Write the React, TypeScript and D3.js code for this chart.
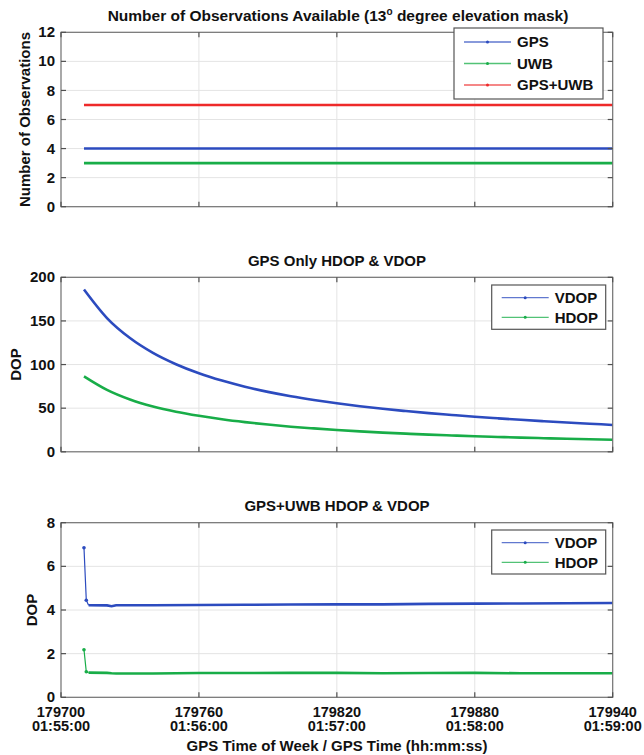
import React from 'react';
import * as d3 from 'd3';

// ---------- data ----------
const xTicks = [179700, 179760, 179820, 179880, 179940];
const timeLabels = ['01:55:00', '01:56:00', '01:57:00', '01:58:00', '01:59:00'];

const obsTimes = [179710, 179940];
const gpsObs = [4, 4];
const uwbObs = [3, 3];
const combObs = [7, 7];
const obsTicks = [0, 2, 4, 6, 8, 10, 12];

const dopTimes = [179710, 179720, 179730, 179740, 179750, 179760, 179770, 179780, 179790, 179800, 179810, 179820,
  179830, 179840, 179850, 179860, 179870, 179880, 179890, 179900, 179910, 179920, 179930, 179940];
const gpsVdop = [186, 153.3, 130.4, 113.4, 100.4, 90, 81.6, 74.6, 68.7, 63.7, 59.4, 55.6,
  52.3, 49.3, 46.7, 44.3, 42.2, 40.2, 38.4, 36.7, 35.1, 33.6, 32.2, 30.8];
const gpsHdop = [86.5, 71, 60, 52, 46, 41.3, 37.3, 34, 31.2, 28.8, 26.8, 25,
  23.4, 22, 20.8, 19.7, 18.7, 17.8, 17, 16.3, 15.6, 15, 14.4, 13.8];
const gpsDopTicks = [0, 50, 100, 150, 200];

const combTimes = [179710, 179711, 179712, 179720, 179722, 179724, 179740, 179760, 179780, 179800, 179820,
  179840, 179860, 179880, 179900, 179920, 179940];
const combVdop = [6.85, 4.45, 4.22, 4.21, 4.17, 4.22, 4.22, 4.23, 4.24, 4.25, 4.26, 4.26, 4.28, 4.29, 4.3, 4.31, 4.32];
const combHdop = [2.18, 1.17, 1.13, 1.12, 1.1, 1.09, 1.09, 1.11, 1.11, 1.12, 1.12, 1.1, 1.11, 1.12, 1.1, 1.1, 1.1];
const combDopTicks = [0, 2, 4, 6, 8];

// ---------- style ----------
const BLUE = '#2c4bbf';
const GREEN = '#18ad48';
const RED = '#ee2a2a';
const FONT = '"Liberation Sans", Arial, sans-serif';
const X0 = 61;
const X1 = 612.7;

const x = d3.scaleLinear().domain([179700, 179940]).range([X0, X1]);

type Series = { times: number[]; values: number[]; color: string; spike?: boolean };
type Legend = { x0: number; x1: number; y0: number; y1: number; rows: { label: string; color: string; y: number }[] };

function Panel(props: {
  top: number; bottom: number; yMax: number; ticks: number[]; series: Series[]; legend: Legend;
  ylabel: string; ylabelX: number; showXLabels?: boolean;
}) {
  const { top, bottom, yMax, ticks, series, legend, ylabel, ylabelX, showXLabels } = props;
  const y = d3.scaleLinear().domain([0, yMax]).range([bottom, top]);
  const tl = 5;
  return (
    <g>
      {/* grid */}
      {xTicks.slice(1, -1).map((t) => (
        <line key={'gx' + t} x1={x(t)} x2={x(t)} y1={top} y2={bottom} stroke="#e4e4e4" strokeWidth={1} />
      ))}
      {ticks.slice(1, -1).map((t) => (
        <line key={'gy' + t} x1={X0} x2={X1} y1={y(t)} y2={y(t)} stroke="#e4e4e4" strokeWidth={1} />
      ))}
      {/* series */}
      {series.map((s, i) => {
        const pts = s.times.map((t, j) => [t, s.values[j]] as [number, number]);
        if (s.spike) {
          const lin = d3.line<[number, number]>().x((d) => x(d[0])).y((d) => y(d[1]));
          return (
            <g key={'s' + i}>
              <path d={lin(pts.slice(0, 3)) || ''} fill="none" stroke={s.color} strokeWidth={1.2} />
              <path d={lin(pts.slice(2)) || ''} fill="none" stroke={s.color} strokeWidth={2.6} />
              {pts.slice(0, 2).map((p, j) => (
                <circle key={j} cx={x(p[0])} cy={y(p[1])} r={1.8} fill={s.color} />
              ))}
            </g>
          );
        }
        const line = d3.line<[number, number]>().x((d) => x(d[0])).y((d) => y(d[1])).curve(d3.curveMonotoneX);
        return <path key={'s' + i} d={line(pts) || ''} fill="none" stroke={s.color} strokeWidth={2.6} />;
      })}
      {/* box */}
      <rect x={X0} y={top} width={X1 - X0} height={bottom - top} fill="none" stroke="#707070" strokeWidth={1.2} />
      {/* ticks */}
      {xTicks.map((t) => (
        <g key={'xt' + t}>
          <line x1={x(t)} x2={x(t)} y1={bottom} y2={bottom - tl} stroke="#505050" strokeWidth={1.2} />
          <line x1={x(t)} x2={x(t)} y1={top} y2={top + tl} stroke="#505050" strokeWidth={1.2} />
        </g>
      ))}
      {ticks.map((t) => (
        <g key={'yt' + t}>
          <line x1={X0} x2={X0 + tl} y1={y(t)} y2={y(t)} stroke="#505050" strokeWidth={1.2} />
          <line x1={X1} x2={X1 - tl} y1={y(t)} y2={y(t)} stroke="#505050" strokeWidth={1.2} />
          <text x={X0 - 6} y={y(t)} dy="0.34em" textAnchor="end" fontSize={15} fontWeight="bold" fontFamily={FONT} fill="#111">{t}</text>
        </g>
      ))}
      {showXLabels && xTicks.map((t, i) => (
        <text key={'xl' + t} y={716.5} textAnchor="middle" fontSize={14.5} fontWeight="bold" fontFamily={FONT} fill="#111">
          <tspan x={x(t)}>{t}</tspan>
          <tspan x={x(t)} dy={14.5}>{timeLabels[i]}</tspan>
        </text>
      ))}
      {/* y label */}
      <text transform={`translate(${ylabelX},${(top + bottom) / 2}) rotate(-90)`} textAnchor="middle" fontSize={15} fontWeight="bold" fontFamily={FONT} fill="#111">{ylabel}</text>
      {/* legend */}
      <rect x={legend.x0} y={legend.y0} width={legend.x1 - legend.x0} height={legend.y1 - legend.y0} fill="#fff" stroke="#555" strokeWidth={1.2} />
      {legend.rows.map((r) => (
        <g key={r.label}>
          <line x1={legend.x0 + 10} x2={legend.x0 + 57} y1={r.y} y2={r.y} stroke={r.color} strokeOpacity={0.75} strokeWidth={1.3} />
          <circle cx={legend.x0 + 33.5} cy={r.y} r={1.5} fill={r.color} />
          <text x={legend.x0 + 63} y={r.y} dy="0.36em" fontSize={15} fontWeight="bold" fontFamily={FONT} fill="#111">{r.label}</text>
        </g>
      ))}
    </g>
  );
}

export default function App() {
  return (
    <svg width={644} height={755} style={{ position: 'absolute', left: 0, top: 0, background: '#fff' }}>
      <rect width={644} height={755} fill="#fff" />
      <text x={338} y={21} textAnchor="middle" fontSize={15.5} fontWeight="bold" fontFamily={FONT} fill="#111">
        <tspan>Number of Observations Available (13</tspan>
        <tspan dy={-6} fontSize={10}>o</tspan>
        <tspan dy={6}> degree elevation mask)</tspan>
      </text>
      <Panel
        top={32.3} bottom={206.7} yMax={12} ticks={obsTicks}
        series={[
          { times: obsTimes, values: combObs, color: RED },
          { times: obsTimes, values: gpsObs, color: BLUE },
          { times: obsTimes, values: uwbObs, color: GREEN },
        ]}
        legend={{ x0: 454, x1: 603, y0: 28, y1: 99, rows: [
          { label: 'GPS', color: BLUE, y: 42 },
          { label: 'UWB', color: GREEN, y: 63.5 },
          { label: 'GPS+UWB', color: RED, y: 85 },
        ] }}
        ylabel="Number of Observations" ylabelX={30}
      />
      <text x={337} y={266} textAnchor="middle" fontSize={15} fontWeight="bold" fontFamily={FONT} fill="#111">GPS Only HDOP &amp; VDOP</text>
      <Panel
        top={277.3} bottom={451.8} yMax={200} ticks={gpsDopTicks}
        series={[
          { times: dopTimes, values: gpsVdop, color: BLUE },
          { times: dopTimes, values: gpsHdop, color: GREEN },
        ]}
        legend={{ x0: 491.7, x1: 605.7, y0: 285, y1: 329.3, rows: [
          { label: 'VDOP', color: BLUE, y: 297.7 },
          { label: 'HDOP', color: GREEN, y: 317.3 },
        ] }}
        ylabel="DOP" ylabelX={20.7}
      />
      <text x={337} y={510.5} textAnchor="middle" fontSize={15} fontWeight="bold" fontFamily={FONT} fill="#111">GPS+UWB HDOP &amp; VDOP</text>
      <Panel
        top={522.7} bottom={697.3} yMax={8} ticks={combDopTicks}
        series={[
          { times: combTimes, values: combVdop, color: BLUE, spike: true },
          { times: combTimes, values: combHdop, color: GREEN, spike: true },
        ]}
        legend={{ x0: 491.7, x1: 605.7, y0: 530, y1: 574, rows: [
          { label: 'VDOP', color: BLUE, y: 542.7 },
          { label: 'HDOP', color: GREEN, y: 562.3 },
        ] }}
        ylabel="DOP" ylabelX={37}
        showXLabels
      />
      <text x={337} y={751} textAnchor="middle" fontSize={15} fontWeight="bold" fontFamily={FONT} fill="#111">GPS Time of Week / GPS Time (hh:mm:ss)</text>
    </svg>
  );
}
